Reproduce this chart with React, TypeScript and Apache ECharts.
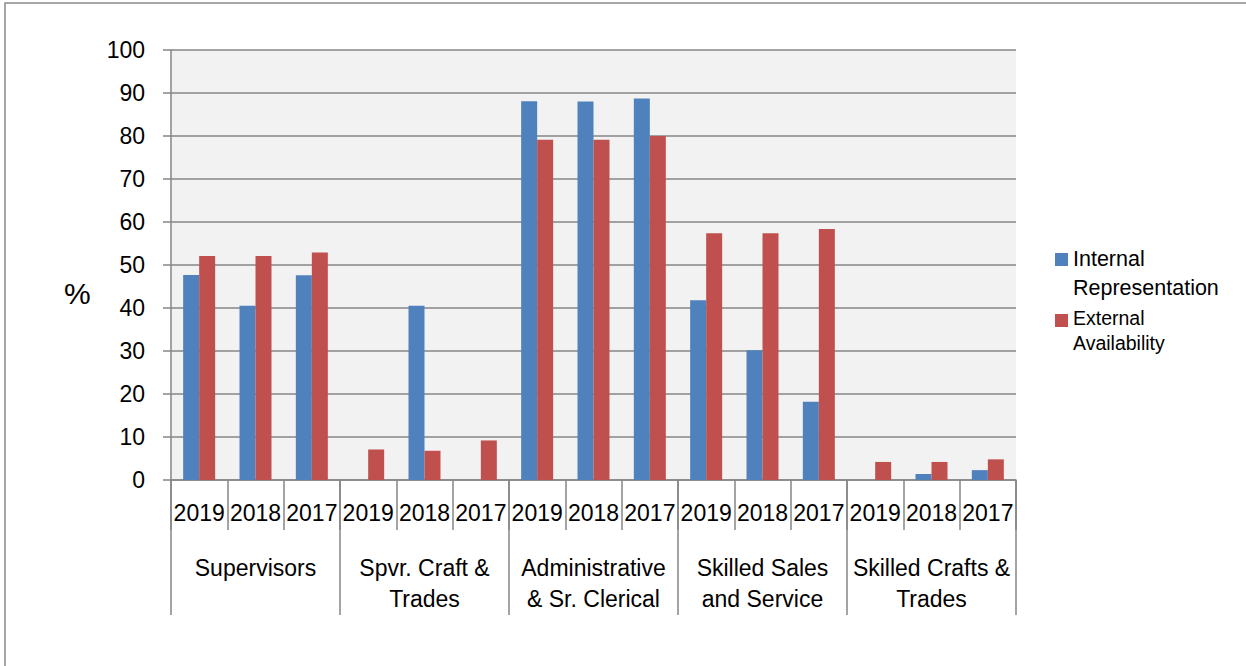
import React, { useEffect, useRef } from "react";
import * as echarts from "echarts";

const groups = [
  "Supervisors",
  "Spvr. Craft &\nTrades",
  "Administrative\n& Sr. Clerical",
  "Skilled Sales\nand Service",
  "Skilled Crafts &\nTrades",
];
const years = ["2019", "2018", "2017"];
const seriesNames = ["Internal Representation", "External Availability"];
const internalRep = [47.7, 40.5, 47.6, null, 40.5, null, 88.1, 88.0, 88.7, 41.8, 30.2, 18.2, null, 1.4, 2.3];
const externalAvail = [52.1, 52.1, 52.9, 7.1, 6.8, 9.2, 79.1, 79.1, 80.0, 57.4, 57.4, 58.4, 4.2, 4.2, 4.8];
const yTicks = { min: 0, max: 100, interval: 10 };

const FONT = "Liberation Sans";
const GRAY = "#868686";

export default function App() {
  const ref = useRef<HTMLDivElement>(null);
  useEffect(() => {
    if (!ref.current) return;
    const chart = echarts.init(ref.current, null, { renderer: "svg" });
    const categories = groups.flatMap(() => years);
    chart.setOption({
      animation: false,
      backgroundColor: "#ffffff",
      textStyle: { fontFamily: FONT },
      graphic: [
        {
          type: "rect",
          shape: { x: 5, y: 3, width: 1400, height: 800 },
          style: { fill: "none", stroke: "#8a8a8a", lineWidth: 1.5 },
          silent: true,
        },
        {
          type: "text",
          left: 64,
          top: 278,
          style: { text: "%", fontSize: 30, fontFamily: FONT, fill: "#000" },
        },
      ],
      legend: {
        orient: "vertical",
        left: 1055,
        top: 248,
        padding: 0,
        itemGap: 9,
        itemWidth: 13,
        itemHeight: 41,
        itemStyle: { borderWidth: 0 },
        data: [
          { name: seriesNames[0], icon: "path://M0,0h13v13h-13z M0,41h0.01" },
          { name: seriesNames[1], icon: "path://M0,4h13v13h-13z M0,0h0.01 M0,41h0.01" },
        ],
        formatter: (name: string) => {
          const tag = name === seriesNames[0] ? "a" : "b";
          return name
            .split(" ")
            .map((w) => `{${tag}|${w}}`)
            .join("\n");
        },
        textStyle: {
          rich: {
            a: { fontSize: 21.5, lineHeight: 29, fontFamily: FONT, color: "#000" },
            b: { fontSize: 19.5, lineHeight: 25, fontFamily: FONT, color: "#000" },
          },
        },
      },
      grid: {
        left: 171,
        top: 50,
        width: 845,
        height: 430,
        show: true,
        backgroundColor: "#f2f2f2",
        borderWidth: 0,
      },
      xAxis: [
        {
          type: "category",
          data: categories,
          position: "bottom",
          axisLine: { show: true, lineStyle: { color: GRAY, width: 1.5 } },
          axisTick: { show: true, length: 50, interval: 0, lineStyle: { color: GRAY, width: 1.5 } },
          axisLabel: { interval: 0, margin: 21, fontSize: 23, color: "#000", fontFamily: FONT },
          splitLine: { show: false },
        },
        {
          type: "category",
          data: groups,
          position: "bottom",
          axisLine: { show: false },
          axisTick: { show: true, length: 135, interval: 0, lineStyle: { color: GRAY, width: 1.5 } },
          axisLabel: { interval: 0, margin: 72, fontSize: 23, lineHeight: 31, color: "#000", fontFamily: FONT },
          splitLine: { show: false },
        },
      ],
      yAxis: {
        type: "value",
        min: yTicks.min,
        max: yTicks.max,
        interval: yTicks.interval,
        axisLine: { show: true, lineStyle: { color: GRAY, width: 1.5 } },
        axisTick: { show: true, length: 8, lineStyle: { color: GRAY, width: 1.5 } },
        axisLabel: { margin: 26, fontSize: 23, color: "#000", fontFamily: FONT },
        splitLine: { show: true, lineStyle: { color: GRAY, width: 1.5 } },
      },
      series: [
        {
          name: seriesNames[0],
          type: "bar",
          data: internalRep,
          barWidth: 16,
          barGap: "0%",
          itemStyle: { color: "#4f81bd" },
        },
        {
          name: seriesNames[1],
          type: "bar",
          data: externalAvail,
          barWidth: 16,
          barGap: "0%",
          itemStyle: { color: "#c0504d" },
        },
      ],
    });
    return () => chart.dispose();
  }, []);
  return (
    <div
      ref={ref}
      style={{ position: "absolute", left: 0, top: 0, width: 1246, height: 666 }}
    />
  );
}
